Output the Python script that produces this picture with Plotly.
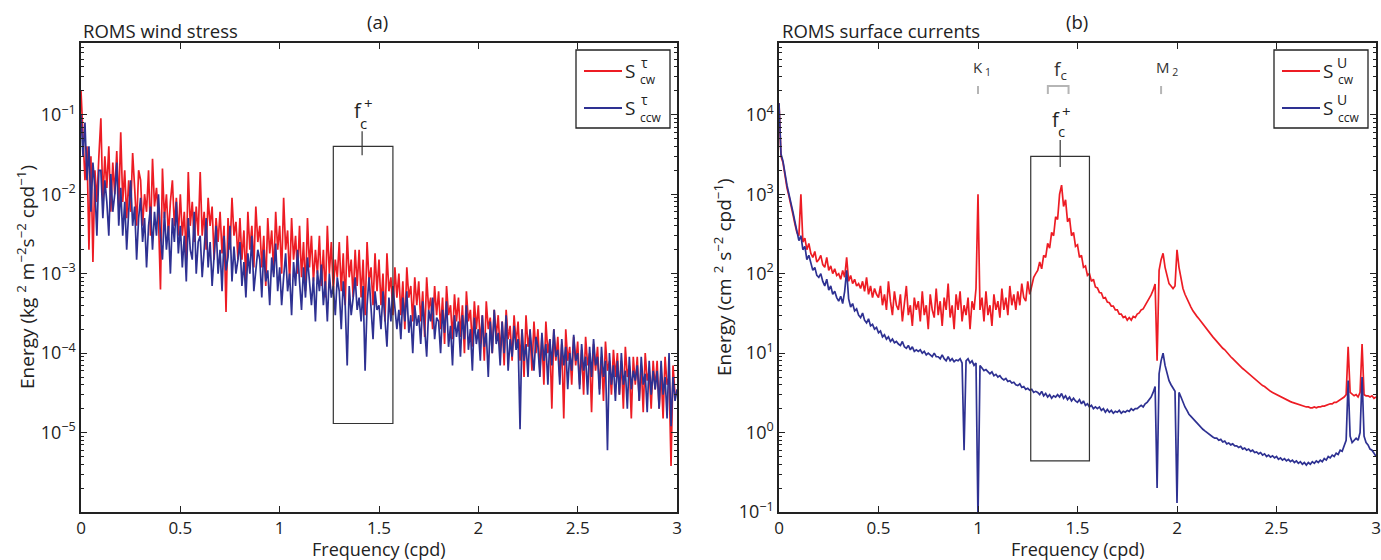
import plotly.graph_objects as go
import numpy as np

W, H = 1381, 560
RED = "#ED1C24"
BLUE = "#2E3192"
FONT = "Open Sans"

# ---------------- data ----------------
freq = [
0.00,0.01,0.02,0.03,0.04,0.05,0.06,0.07,0.08,0.09,
0.10,0.11,0.12,0.13,0.14,0.15,0.16,0.17,0.18,0.19,
0.20,0.21,0.22,0.23,0.24,0.25,0.26,0.27,0.28,0.29,
0.30,0.31,0.32,0.33,0.34,0.35,0.36,0.37,0.38,0.39,
0.40,0.41,0.42,0.43,0.44,0.45,0.46,0.47,0.48,0.49,
0.50,0.51,0.52,0.53,0.54,0.55,0.56,0.57,0.58,0.59,
0.60,0.61,0.62,0.63,0.64,0.65,0.66,0.67,0.68,0.69,
0.70,0.71,0.72,0.73,0.74,0.75,0.76,0.77,0.78,0.79,
0.80,0.81,0.82,0.83,0.84,0.85,0.86,0.87,0.88,0.89,
0.90,0.91,0.92,0.93,0.94,0.95,0.96,0.97,0.98,0.99,
1.00,1.01,1.02,1.03,1.04,1.05,1.06,1.07,1.08,1.09,
1.10,1.11,1.12,1.13,1.14,1.15,1.16,1.17,1.18,1.19,
1.20,1.21,1.22,1.23,1.24,1.25,1.26,1.27,1.28,1.29,
1.30,1.31,1.32,1.33,1.34,1.35,1.36,1.37,1.38,1.39,
1.40,1.41,1.42,1.43,1.44,1.45,1.46,1.47,1.48,1.49,
1.50,1.51,1.52,1.53,1.54,1.55,1.56,1.57,1.58,1.59,
1.60,1.61,1.62,1.63,1.64,1.65,1.66,1.67,1.68,1.69,
1.70,1.71,1.72,1.73,1.74,1.75,1.76,1.77,1.78,1.79,
1.80,1.81,1.82,1.83,1.84,1.85,1.86,1.87,1.88,1.89,
1.90,1.91,1.92,1.93,1.94,1.95,1.96,1.97,1.98,1.99,
2.00,2.01,2.02,2.03,2.04,2.05,2.06,2.07,2.08,2.09,
2.10,2.11,2.12,2.13,2.14,2.15,2.16,2.17,2.18,2.19,
2.20,2.21,2.22,2.23,2.24,2.25,2.26,2.27,2.28,2.29,
2.30,2.31,2.32,2.33,2.34,2.35,2.36,2.37,2.38,2.39,
2.40,2.41,2.42,2.43,2.44,2.45,2.46,2.47,2.48,2.49,
2.50,2.51,2.52,2.53,2.54,2.55,2.56,2.57,2.58,2.59,
2.60,2.61,2.62,2.63,2.64,2.65,2.66,2.67,2.68,2.69,
2.70,2.71,2.72,2.73,2.74,2.75,2.76,2.77,2.78,2.79,
2.80,2.81,2.82,2.83,2.84,2.85,2.86,2.87,2.88,2.89,
2.90,2.91,2.92,2.93,2.94,2.95,2.96,2.97,2.98,2.99,
3.00]

# (a) wind stress, clockwise
wind_cw = [
2e-1,5e-2,1.5e-2,4e-2,2e-3,3e-2,1.4e-3,2e-2,8e-3,3e-2,
9e-2,8e-3,3e-2,1.2e-2,4e-2,6e-3,2.5e-2,1e-2,3.5e-2,7e-3,
6e-2,8e-3,2e-2,5e-3,1.5e-2,6e-3,3.3e-2,1.2e-2,4e-3,2e-2,
1.5e-2,4e-3,1e-2,6e-3,2e-2,3e-3,2.8e-2,7e-3,1.2e-2,5e-3,
6.3e-4,2.1e-2,5e-3,1e-2,3e-3,8e-3,1.5e-2,4e-3,9e-3,3e-3,
1e-2,3e-3,6e-3,1.5e-3,1.9e-2,4e-3,8e-3,2.5e-3,7e-3,3e-3,
1.9e-2,3e-3,6e-3,2e-3,9e-3,4e-3,7e-3,1.5e-3,5e-3,2.5e-3,
6e-3,1.8e-3,4e-3,3.3e-4,5e-3,2e-3,9e-3,3e-3,4.5e-3,1.5e-3,
5e-3,1.5e-3,3.5e-3,8e-4,6e-3,2e-3,4e-3,1.2e-3,7e-3,2.5e-3,
4e-3,1.2e-3,3e-3,7e-4,5e-3,1.8e-3,3.5e-3,1e-3,6e-3,2e-3,
4e-3,1e-3,9e-3,2e-3,3.5e-3,8e-4,5e-3,1.5e-3,3e-3,1e-3,
4e-3,9e-4,2.5e-3,6e-4,5e-3,1.2e-3,3e-3,8e-4,2e-3,1e-3,
3e-3,7e-4,2e-3,5e-4,4e-3,1e-3,2.5e-3,6e-4,1.5e-3,9e-4,
2.5e-3,6e-4,1.8e-3,4e-4,3e-3,9e-4,1.5e-3,5e-4,2e-3,7e-4,
2e-3,5e-4,1.5e-3,3e-4,2.5e-3,8e-4,1.2e-3,4e-4,1.8e-3,6e-4,
1.5e-3,4e-4,1e-3,2.5e-4,1.8e-3,6e-4,9e-4,3e-4,1.2e-3,5e-4,
1e-3,3e-4,8e-4,2e-4,1.2e-3,5e-4,7e-4,2.5e-4,9e-4,4e-4,
8e-4,2.5e-4,6e-4,1.6e-4,9e-4,3.5e-4,5e-4,2e-4,7e-4,3e-4,
6e-4,2e-4,5e-4,1.3e-4,7e-4,3e-4,4e-4,1.5e-4,5.5e-4,2.5e-4,
5e-4,1.6e-4,4e-4,1e-4,6e-4,2.5e-4,3.5e-4,1.2e-4,4.5e-4,2e-4,
4e-4,1.3e-4,3e-4,8e-5,4.5e-4,2e-4,2.8e-4,1e-4,3.5e-4,1.6e-4,
3e-4,1e-4,2.5e-4,7e-5,3.5e-4,1.5e-4,2.2e-4,8e-5,3e-4,1.3e-4,
2.5e-4,8e-5,2e-4,5e-5,3e-4,1.2e-4,1.8e-4,6e-5,2.5e-4,1e-4,
2e-4,6e-5,1.6e-4,4e-5,2.5e-4,1e-4,1.5e-4,2e-5,2e-4,8e-5,
1.6e-4,5e-5,1.3e-4,1.5e-5,2e-4,8e-5,1.2e-4,4e-5,1.6e-4,7e-5,
1.4e-4,4e-5,1.1e-4,3e-5,1.6e-4,7e-5,1e-4,1.8e-5,1.3e-4,6e-5,
1.2e-4,3.5e-5,9e-5,2.5e-5,1.4e-4,6e-5,8e-5,3e-5,1.1e-4,5e-5,
1e-4,3e-5,8e-5,2e-5,1.2e-4,5e-5,7e-5,1.5e-5,9e-5,4e-5,
9e-5,2.5e-5,7e-5,1.8e-5,1e-4,4.5e-5,6e-5,2e-5,8e-5,3.5e-5,
8e-5,2e-5,6e-5,1.5e-5,9e-5,4e-5,5e-5,3.8e-6,7e-5,3e-5,
3e-5]

# (a) wind stress, counter-clockwise
wind_ccw = [
1e-1,3e-2,8e-2,1.5e-2,4e-2,6e-3,2.5e-2,1.2e-2,3e-3,2e-2,
2e-2,5e-3,1.5e-2,8e-3,3e-3,1.8e-2,6e-3,1e-2,2.5e-2,4e-3,
1.2e-2,3e-3,8e-3,2e-3,6e-3,1.5e-2,4e-3,7e-3,1.5e-3,5e-3,
9e-3,2.5e-3,5e-3,1.2e-3,4e-3,7e-3,2e-3,6e-3,3e-3,1e-2,
3e-3,1.5e-3,6e-3,2e-3,4e-3,1e-3,5e-3,2.5e-3,8e-3,1.8e-3,
4e-3,1.2e-3,3e-3,8e-4,5e-3,2e-3,1.5e-3,6e-3,1e-3,2.5e-3,
3e-3,9e-4,2e-3,5e-3,1.2e-3,2.5e-3,7e-4,1.8e-3,4e-3,1e-3,
2e-3,6e-4,3e-3,1.1e-3,1.6e-3,4e-3,8e-4,2.2e-3,1e-3,1.5e-3,
2.5e-3,7e-4,1.4e-3,5e-4,1.8e-3,1e-3,3e-3,6e-4,1.2e-3,2e-3,
1.5e-3,5e-4,2e-3,8e-4,1.1e-3,4e-4,1.6e-3,9e-4,2.4e-3,6e-4,
1.2e-3,4e-4,9e-4,1.8e-3,6e-4,1e-3,3e-4,1.4e-3,7e-4,2e-3,
8e-4,3.5e-4,1.2e-3,5e-4,1.6e-3,7e-4,4e-4,9e-4,2.5e-4,1.1e-3,
6e-4,1.3e-3,4e-4,8e-4,2.5e-4,1e-3,5e-4,7e-4,3e-4,9e-4,
6e-4,2e-4,8e-4,4e-4,7e-5,7e-4,3e-4,5e-4,9e-4,3.5e-4,
5e-4,2.5e-4,7e-4,6e-5,4e-4,9e-4,3e-4,1.5e-4,6e-4,3.5e-4,
4e-4,2e-4,6e-4,3e-4,1.2e-4,5e-4,2.5e-4,7e-4,3.5e-4,2e-4,
3.5e-4,1.5e-4,5e-4,2.5e-4,6e-4,1.8e-4,3e-4,1e-4,4e-4,2.2e-4,
3e-4,1.3e-4,4.5e-4,2e-4,9e-5,3.5e-4,2.5e-4,5e-4,1.5e-4,2.8e-4,
2.5e-4,1e-4,3.5e-4,1.8e-4,4.5e-4,1.2e-4,2.2e-4,7e-5,3e-4,1.6e-4,
2.5e-4,9e-5,3e-4,1.5e-4,4e-4,1.1e-4,2e-4,6e-5,2.8e-4,1.3e-4,
2e-4,8e-5,3e-4,1.2e-4,1.8e-4,5e-5,2.5e-4,1e-4,3.5e-4,1.3e-4,
1.8e-4,7e-5,2.5e-4,1e-4,3e-4,6e-5,1.5e-4,9e-5,2.2e-4,1.1e-4,
1.5e-4,1.1e-5,2e-4,8e-5,1.3e-4,5e-5,2e-4,1e-4,6e-5,1.6e-4,
1.2e-4,5e-5,1.8e-4,8e-5,1.3e-4,4e-5,1.5e-4,7e-5,2e-4,9e-5,
1.1e-4,4e-5,1.5e-4,7e-5,1.2e-4,3.5e-5,1e-4,6e-5,1.7e-4,8e-5,
1e-4,3.5e-5,1.3e-4,6e-5,9e-5,3e-5,1.2e-4,5e-5,1.5e-4,7e-5,
9e-5,3e-5,1.2e-4,5e-5,8e-5,6e-6,1e-4,4e-5,7e-5,2.5e-5,
8e-5,3e-5,1e-4,4e-5,6e-5,2e-5,9e-5,3.5e-5,6e-5,4.5e-5,
7e-5,2.5e-5,9e-5,4e-5,5.5e-5,1.8e-5,8e-5,3e-5,6e-5,3.5e-5,
6e-5,2e-5,8e-5,3e-5,5e-5,1.5e-5,1e-4,1.2e-5,5e-5,2.5e-5,
3.5e-5]

# (b) surface currents, clockwise
curr_cw = [
14000,3000,2500,1700,1200,950,750,560,420,330,
300,1000,250,280,200,240,180,160,190,140,
150,170,130,120,160,110,125,100,115,95,
100,85,110,90,160,80,95,75,85,70,
75,65,80,60,90,55,70,50,65,55,
50,70,40,55,35,80,45,30,60,40,
35,55,25,45,70,30,40,22,50,35,
45,25,60,30,40,20,55,35,28,65,
30,45,22,50,35,75,28,40,20,55,
35,60,25,40,30,50,20,45,35,65,
1000,35,50,25,60,30,40,22,55,35,
45,28,65,35,50,30,70,40,55,35,
60,40,75,50,45,80,55,70,90,100,
110,140,115,170,160,240,210,330,300,520,
480,1000,1300,700,850,450,500,300,330,220,
230,160,170,120,125,95,100,80,85,68,
66,58,57,49,50,44,43,39,39,35,
35,31,31,28,29,26,28,26,29,28,
31,32,35,36,40,43,48,54,62,74,
8,110,150,180,120,90,75,70,65,70,
200,120,85,65,55,48,42,38,34,31,
29,27,25,23,21,20,18.5,17,16,15,
14,13,12.5,11.5,11,10.2,9.6,9.0,8.5,8.0,
7.6,7.2,6.8,6.4,6.1,5.8,5.5,5.2,5.0,4.7,
4.5,4.3,4.1,3.9,3.8,3.6,3.5,3.3,3.2,3.1,
3.0,2.9,2.8,2.75,2.65,2.6,2.5,2.45,2.4,2.35,
2.3,2.25,2.2,2.2,2.15,2.1,2.1,2.05,2.05,2.1,
2.05,2.1,2.1,2.15,2.15,2.2,2.2,2.3,2.3,2.4,
2.4,2.5,2.6,2.7,2.8,3.0,12,3.2,3.0,2.9,
3.0,2.8,3.2,13,3.0,2.9,2.9,2.8,2.9,2.7,
2.8]

# (b) surface currents, counter-clockwise
curr_ccw = [
14000,3200,2600,1800,1300,1000,800,600,450,350,
260,300,200,220,150,170,130,110,120,95,
90,100,80,70,85,62,70,55,60,50,
45,52,42,60,110,48,38,42,34,36,
30,28,32,26,24,27,22,23,20,21,
18,19,16,17,15,16,14,15,13.5,14,
13,12.5,14,12,11.5,12.5,11,12,10.5,11,
10.5,11,10,10.5,9.5,10,9.5,9,10,9,
9,8.5,9.5,8.5,8,9,8,8.5,7.8,8.2,
8,8.5,7.5,0.6,8,8.5,7.5,8,7,7.5,
0.08,7,6.5,6,6.2,5.8,5.5,5.8,5.2,5.4,
5,5.2,4.8,4.6,4.8,4.4,4.5,4.2,4.3,4,
3.9,4.1,3.7,3.8,3.5,3.6,3.4,3.5,3.2,3.3,
3.2,3.0,3.3,2.9,3.1,2.8,3.0,2.7,2.9,2.8,
3.0,2.8,3.1,2.7,2.9,2.6,2.8,2.5,2.7,2.5,
2.4,2.6,2.3,2.5,2.2,2.3,2.1,2.2,2.0,2.1,
2.0,2.1,1.9,2.0,1.8,1.95,1.8,1.9,1.75,1.85,
1.8,1.9,1.75,1.85,1.8,1.9,1.85,2.0,1.9,2.0,
2.0,2.1,2.2,2.1,2.3,2.4,2.6,2.8,3.2,3.8,
0.2,5.5,8,10,7,5.5,4.5,4,3.6,3.3,
0.13,3.2,2.8,2.4,2.1,1.9,1.7,1.6,1.5,1.4,
1.3,1.25,1.15,1.1,1.05,1.0,0.95,0.92,0.88,0.85,
0.85,0.8,0.82,0.76,0.78,0.72,0.74,0.7,0.72,0.68,
0.68,0.65,0.67,0.62,0.64,0.6,0.62,0.58,0.6,0.56,
0.57,0.54,0.56,0.52,0.54,0.5,0.52,0.49,0.51,0.48,
0.5,0.46,0.48,0.45,0.47,0.44,0.46,0.43,0.45,0.42,
0.44,0.41,0.43,0.4,0.42,0.39,0.42,0.4,0.43,0.41,
0.44,0.42,0.45,0.43,0.47,0.45,0.5,0.48,0.52,0.5,
0.55,0.53,0.6,0.58,0.68,0.8,4.5,0.9,0.75,0.8,
0.85,0.8,1.0,5.0,0.9,0.75,0.7,0.62,0.6,0.55,
0.5]

x_tickvals = [0, 0.5, 1, 1.5, 2, 2.5, 3]
x_ticktext = ["0", "0.5", "1", "1.5", "2", "2.5", "3"]
ya_exp = [-5, -4, -3, -2, -1]
yb_exp = [-1, 0, 1, 2, 3, 4]

# annotation anchors (data units)
fc_box_a = dict(f0=1.27, f1=1.57, e0=1.3e-5, e1=4.0e-2, ftick=1.415, t0=3.1e-2, t1=6.2e-2)
fc_box_b = dict(f0=1.265, f1=1.56, e0=0.44, e1=3000, ftick=1.413, t0=2200, t1=4800)
tides = dict(K1=1.0, M2=1.92)
fc_band = (1.351, 1.455)

# ---------------- layout geometry ----------------
def px(x):
    return x / W

def py(y):
    return 1 - y / H

dom_a = [px(81), px(677)]
dom_b = [px(779), px(1376)]
dom_y = [py(512), py(43)]

LW = 1.7
fig = go.Figure()
fig.add_trace(go.Scatter(x=freq, y=wind_cw, mode="lines", line=dict(color=RED, width=LW),
                         xaxis="x", yaxis="y", showlegend=False))
fig.add_trace(go.Scatter(x=freq, y=wind_ccw, mode="lines", line=dict(color=BLUE, width=LW),
                         xaxis="x", yaxis="y", showlegend=False))
fig.add_trace(go.Scatter(x=freq, y=curr_cw, mode="lines", line=dict(color=RED, width=LW),
                         xaxis="x2", yaxis="y2", showlegend=False))
fig.add_trace(go.Scatter(x=freq, y=curr_ccw, mode="lines", line=dict(color=BLUE, width=LW),
                         xaxis="x2", yaxis="y2", showlegend=False))

AX = "#222222"
tickfont = dict(family=FONT, size=17, color=AX)

def xaxis(dom, anchor):
    return dict(domain=dom, anchor=anchor, range=[0, 3], tickmode="array",
                tickvals=x_tickvals, ticktext=x_ticktext, ticks="inside", ticklen=6,
                tickcolor=AX, showline=True, linecolor=AX, linewidth=1.5, mirror="ticks",
                showgrid=False, zeroline=False, tickfont=tickfont, automargin=False,
                ticklabeloverflow="allow")

def minor_vals(lo, hi):
    vals = []
    for d in range(lo, hi + 1):
        for k in range(2, 10):
            vals.append(k * 10.0 ** d)
    return vals

def yaxis(dom, anchor, rng, exps, lo, hi):
    return dict(domain=dom, anchor=anchor, type="log", range=rng, tickmode="array",
                tickvals=[10.0 ** e for e in exps],
                ticktext=["10<sup>%s</sup>" % (str(e).replace("-", "\u2212")) for e in exps],
                ticks="inside", ticklen=6, tickcolor=AX, showline=True, linecolor=AX,
                linewidth=1.5, mirror="ticks", showgrid=False, zeroline=False,
                tickfont=dict(family=FONT, size=18, color=AX), automargin=False,
                ticklabeloverflow="allow",
                minor=dict(tickmode="array", tickvals=minor_vals(lo, hi), ticks="inside",
                           ticklen=3, tickcolor=AX, showgrid=False))

fig.update_layout(
    width=W, height=H, margin=dict(l=0, r=0, t=0, b=0),
    paper_bgcolor="white", plot_bgcolor="white", template="none",
    font=dict(family=FONT, color=AX),
    xaxis=xaxis(dom_a, "y"),
    yaxis=yaxis(dom_y, "x", [-6, np.log10(0.8)], ya_exp, -6, -1),
    xaxis2=xaxis(dom_b, "y2"),
    yaxis2=yaxis(dom_y, "x2", [-1, np.log10(8e4)], yb_exp, -1, 4),
)

shapes = []
ann = []

# f_c^+ boxes and ticks
for xr, yr, b in (("x", "y", fc_box_a), ("x2", "y2", fc_box_b)):
    shapes.append(dict(type="rect", xref=xr, yref=yr, x0=b["f0"], x1=b["f1"], y0=b["e0"], y1=b["e1"],
                       line=dict(color="#333333", width=1.2)))
    shapes.append(dict(type="line", xref=xr, yref=yr, x0=b["ftick"], x1=b["ftick"], y0=b["t0"], y1=b["t1"],
                       line=dict(color="#333333", width=1.2)))
    ytop = np.log10(b["t1"])
    ann.append(dict(xref=xr, yref=yr, x=b["ftick"] - 0.02, y=ytop + 0.26, text="f", showarrow=False,
                    font=dict(size=20, family=FONT, color=AX), xanchor="center", yanchor="middle"))
    ann.append(dict(xref=xr, yref=yr, x=b["ftick"] + 0.032, y=ytop + 0.36, text="+", showarrow=False,
                    font=dict(size=15, family=FONT, color=AX), xanchor="center", yanchor="middle"))
    ann.append(dict(xref=xr, yref=yr, x=b["ftick"] + 0.005, y=ytop + 0.11, text="c", showarrow=False,
                    font=dict(size=15, family=FONT, color=AX), xanchor="center", yanchor="middle"))

# tidal / inertial markers in (b)
GRAY = "#b5b5b5"
e_lo, e_hi = 1.82e4, 2.3e4
for f in (tides["K1"], tides["M2"]):
    shapes.append(dict(type="line", xref="x2", yref="y2", x0=f, x1=f, y0=e_lo, y1=e_hi,
                       line=dict(color=GRAY, width=2)))
shapes.append(dict(type="path", xref="x2", yref="y2",
                   path="M %g,%g L %g,%g L %g,%g L %g,%g" % (fc_band[0], e_lo, fc_band[0], e_hi,
                                                            fc_band[1], e_hi, fc_band[1], e_lo),
                   line=dict(color=GRAY, width=2)))
lab_y = np.log10(3.9e4)
ann.append(dict(xref="x2", yref="y2", x=tides["K1"] + 0.02, y=lab_y, text="K<sub> 1</sub>", showarrow=False,
                font=dict(size=15, family=FONT, color="#333"), xanchor="center", yanchor="middle"))
ann.append(dict(xref="x2", yref="y2", x=tides["M2"] + 0.03, y=lab_y, text="M<sub> 2</sub>", showarrow=False,
                font=dict(size=15, family=FONT, color="#333"), xanchor="center", yanchor="middle"))
ann.append(dict(xref="x2", yref="y2", x=sum(fc_band) / 2 + 0.01, y=lab_y - 0.03, text="f<sub>c</sub>", showarrow=False,
                font=dict(size=19, family=FONT, color="#333"), xanchor="center", yanchor="middle"))

# manual legends (paper coords)
def legend(x0, sup, subs):
    shapes.append(dict(type="rect", xref="paper", yref="paper", x0=px(x0), x1=px(x0 + 94),
                       y0=py(128), y1=py(50), line=dict(color="#222", width=1.3), fillcolor="white", layer="above"))
    for yy, col, sub in ((71, RED, subs[0]), (108, BLUE, subs[1])):
        shapes.append(dict(type="line", xref="paper", yref="paper", x0=px(x0 + 8), x1=px(x0 + 46),
                           y0=py(yy), y1=py(yy), line=dict(color=col, width=2), layer="above"))
        ann.append(dict(xref="paper", yref="paper", x=px(x0 + 54), y=py(yy), text="S", showarrow=False,
                        font=dict(size=19, family=FONT, color=AX), xanchor="center", yanchor="middle"))
        ann.append(dict(xref="paper", yref="paper", x=px(x0 + 68), y=py(yy - 9), text=sup, showarrow=False,
                        font=dict(size=14, family=FONT, color=AX), xanchor="center", yanchor="middle"))
        ann.append(dict(xref="paper", yref="paper", x=px(x0 + 62), y=py(yy + 9), text=sub, showarrow=False,
                        font=dict(size=12, family=FONT, color=AX), xanchor="left", yanchor="middle"))

legend(576, "\u03c4", ("cw", "ccw"))
legend(1274, "U", ("cw", "ccw"))

# titles and axis labels
TS = 18.5
ann.append(dict(xref="paper", yref="paper", x=px(81), y=py(30), text="ROMS wind stress", showarrow=False,
                font=dict(size=TS, family=FONT, color=AX), xanchor="left", yanchor="middle"))
ann.append(dict(xref="paper", yref="paper", x=px(780), y=py(30), text="ROMS surface currents", showarrow=False,
                font=dict(size=TS, family=FONT, color=AX), xanchor="left", yanchor="middle"))
ann.append(dict(xref="paper", yref="paper", x=px(377), y=py(22), text="(a)", showarrow=False,
                font=dict(size=TS, family=FONT, color=AX), xanchor="center", yanchor="middle"))
ann.append(dict(xref="paper", yref="paper", x=px(1077), y=py(22), text="(b)", showarrow=False,
                font=dict(size=TS, family=FONT, color=AX), xanchor="center", yanchor="middle"))
for xc in (379, 1078):
    ann.append(dict(xref="paper", yref="paper", x=px(xc), y=py(549), text="Frequency (cpd)", showarrow=False,
                    font=dict(size=18, family=FONT, color=AX), xanchor="center", yanchor="middle"))
ann.append(dict(xref="paper", yref="paper", x=px(26), y=py(277), textangle=-90,
                text="Energy (kg <sup>2</sup> m<sup>\u22122</sup>s<sup>\u22122</sup> cpd<sup>\u22121</sup>)",
                showarrow=False, font=dict(size=19, family=FONT, color=AX), xanchor="center", yanchor="middle"))
ann.append(dict(xref="paper", yref="paper", x=px(723), y=py(277), textangle=-90,
                text="Energy (cm <sup>2</sup> s<sup>\u22122</sup> cpd<sup>\u22121</sup>)",
                showarrow=False, font=dict(size=19, family=FONT, color=AX), xanchor="center", yanchor="middle"))

fig.update_layout(shapes=shapes, annotations=ann)
fig.write_html("out.html")
